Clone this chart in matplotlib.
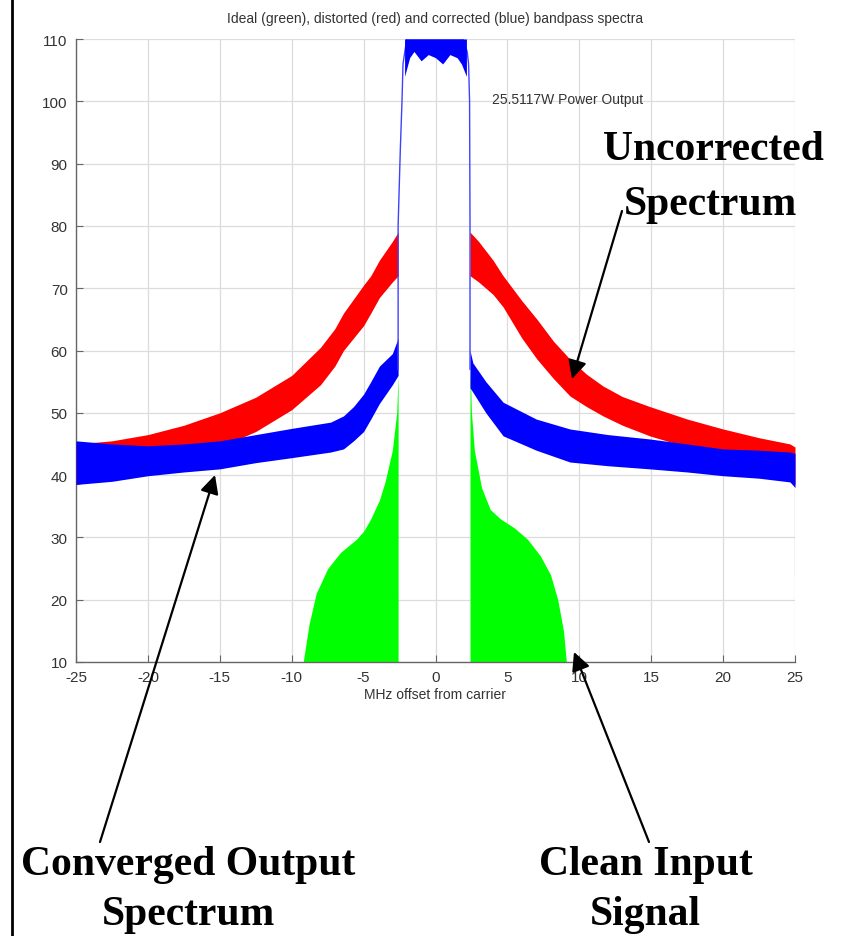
import matplotlib
matplotlib.use("Agg")
import matplotlib.pyplot as plt
from matplotlib.lines import Line2D

# ---------------- data ----------------
# Distorted (red) spectrum: noisy band, lower / upper envelopes
red_x_left = [-25, -22.5, -20, -17.5, -15, -12.5, -10, -8, -7, -6.4, -5, -4.5, -3.9, -3, -2.6]
red_lo_left = [38.5, 39.5, 40.5, 42, 44.5, 47, 50.5, 54.5, 57.5, 60, 64, 66, 68.5, 71, 72]
red_hi_left = [45, 45.5, 46.5, 48, 50, 52.5, 56, 60.5, 63.5, 66, 70.5, 72, 74.5, 77.5, 79]
red_x_right = [2.4, 3, 4, 4.7, 6, 7.06, 8.2, 9.35, 10.5, 11.65, 13, 14.9, 17.5, 20, 22.5, 24.65, 25]
red_hi_right = [79, 77.5, 74.5, 72, 68, 65, 61.5, 58.6, 56.2, 54.3, 52.6, 51, 49, 47.4, 46, 45, 44.5]
red_lo_right = [72, 71, 69, 67, 62, 58.6, 55.5, 52.7, 51, 49.5, 48, 46.3, 44.5, 43, 41.5, 39, 38.5]
red_tail_x = [25, 25]
red_tail_y = [40, 24]

# Corrected (blue) spectrum: skirts
blue_x_left = [-25, -22.5, -20, -17.5, -15, -12.5, -10, -7.3, -6.4, -5.7, -5, -4.5, -3.9, -3, -2.6]
blue_hi_left = [45.5, 45, 44.7, 45, 45.5, 46.5, 47.5, 48.5, 49.5, 51, 53, 55, 57.5, 59.5, 62]
blue_lo_left = [38.5, 39, 39.9, 40.5, 41, 42, 42.8, 43.7, 44.2, 45.5, 47, 49, 51.5, 54.5, 56]
blue_x_right = [2.4, 2.6, 3.5, 4.7, 7, 9.35, 12, 14.9, 17.5, 20, 22.5, 24.65, 25]
blue_hi_right = [60, 58, 55, 51.7, 49, 47.4, 46.5, 45.8, 45, 44.2, 44, 43.7, 43.5]
blue_lo_right = [54, 53.3, 50, 46.3, 44, 42.1, 41.5, 41, 40.5, 39.9, 39.5, 38.9, 38]

# Main lobe (blue) edges and flat top band
lobe_x = [-2.6, -2.6, -2.45, -2.33, -2.26, -2.0, 1.9, 2.2, 2.3, 2.37, 2.4, 2.4]
lobe_y = [57, 80, 92, 100, 106, 110, 110, 108, 106, 100, 80, 57]
lobe_top_x = [-2.15, -1.8, -1.5, -1.0, -0.5, 0, 0.5, 1.0, 1.5, 1.8, 2.15]
lobe_top_lo = [104, 107, 108, 106.5, 107.5, 107, 106, 107.5, 107, 106, 104]

# Ideal (green) spectrum skirts, filled from the floor
green_x_left = [-9.2, -8.8, -8.3, -7.5, -6.6, -5.5, -5.0, -4.5, -3.9, -3.5, -3.0, -2.7, -2.6]
green_hi_left = [10, 16, 21, 25, 27.6, 29.7, 31, 33, 36, 39, 44, 50, 56]
green_x_right = [2.4, 2.5, 2.7, 3.2, 3.8, 4.5, 5.5, 6.4, 7.3, 8.0, 8.5, 8.9, 9.1]
green_hi_right = [58, 50, 44, 38, 34.5, 33, 31.5, 29.7, 27, 24, 20, 15, 10]

x_ticks = [-25, -20, -15, -10, -5, 0, 5, 10, 15, 20, 25]
y_ticks = [10, 20, 30, 40, 50, 60, 70, 80, 90, 100, 110]

title = "Ideal (green), distorted (red) and corrected (blue) bandpass spectra"
xlabel = "MHz offset from carrier"
power_text = "25.5117W Power Output"

# ---------------- figure ----------------
W, H = 844, 937
fig = plt.figure(figsize=(W / 100, H / 100), dpi=100)
fig.patch.set_facecolor("white")

def fx(px):
    return px / W

def fy(py):
    return 1 - py / H

ax = fig.add_axes([fx(76), fy(663), fx(795) - fx(76), fy(40) - fy(663)])
ax.set_xlim(-25, 25)
ax.set_ylim(10, 110)

floor = 10
ax.fill_between(green_x_left, floor, green_hi_left, color="#00ff00", lw=0, zorder=2)
ax.fill_between(green_x_right, floor, green_hi_right, color="#00ff00", lw=0, zorder=2)

ax.fill_between(red_x_left, red_lo_left, red_hi_left, color="#ff0000", lw=0, zorder=3)
ax.fill_between(red_x_right, red_lo_right, red_hi_right, color="#ff0000", lw=0, zorder=3)
ax.plot(red_tail_x, red_tail_y, color="#ff6060", lw=0.8, zorder=3)

ax.fill_between(blue_x_left, blue_lo_left, blue_hi_left, color="#0000ff", lw=0, zorder=4)
ax.fill_between(blue_x_right, blue_lo_right, blue_hi_right, color="#0000ff", lw=0, zorder=4)
ax.plot(lobe_x, lobe_y, color="#4040ff", lw=1.0, zorder=4)
ax.fill_between(lobe_top_x, lobe_top_lo, 110, color="#0000ff", lw=0, zorder=4)

ax.set_xticks(x_ticks)
ax.set_yticks(y_ticks)
ax.set_xticklabels([str(t) for t in x_ticks])
ax.grid(True, color="#dcdcdc", lw=0.9, ls="-", zorder=0)
ax.set_axisbelow(True)
for s in ["top", "right"]:
    ax.spines[s].set_visible(False)
for s in ["left", "bottom"]:
    ax.spines[s].set_color("#666666")
    ax.spines[s].set_linewidth(1.0)
ax.tick_params(direction="in", length=5, color="#666666", labelcolor="#333333",
               labelsize=11, pad=6)
for lab in ax.get_xticklabels() + ax.get_yticklabels():
    lab.set_family("Liberation Sans")

ax.set_xlabel(xlabel, fontsize=10, color="#333333", family="Liberation Sans", labelpad=2)
ax.set_title(title, fontsize=10, color="#333333", family="Liberation Sans", pad=12)
ax.text(3.9, 100.4, power_text, fontsize=10, color="#333333", family="Liberation Sans",
        ha="left", va="center", zorder=5)

# left border of the slide
fig.add_artist(Line2D([fx(12), fx(12)], [0, 1], color="black", lw=2))

# big annotations
big = dict(family="Liberation Serif", fontweight="bold", fontsize=30, color="black",
           ha="center", va="center")
fig.text(fx(713), fy(150), "Uncorrected", **big)
fig.text(fx(710), fy(205), "Spectrum", **big)
fig.text(fx(188), fy(865), "Converged Output", **big)
fig.text(fx(189), fy(915), "Spectrum", **big)
fig.text(fx(646), fy(865), "Clean Input", **big)
fig.text(fx(645), fy(915), "Signal", **big)

arrow = dict(arrowstyle="-|>", color="black", lw=1.6, mutation_scale=28,
             shrinkA=0, shrinkB=0)
ax.annotate("", xy=(fx(572), fy(380)), xytext=(fx(622), fy(212)),
            xycoords="figure fraction", textcoords="figure fraction",
            arrowprops=arrow, annotation_clip=False)
ax.annotate("", xy=(fx(215), fy(476)), xytext=(fx(100), fy(843)),
            xycoords="figure fraction", textcoords="figure fraction",
            arrowprops=arrow, annotation_clip=False)
ax.annotate("", xy=(fx(574), fy(653)), xytext=(fx(649), fy(843)),
            xycoords="figure fraction", textcoords="figure fraction",
            arrowprops=arrow, annotation_clip=False)

fig.savefig("out.png", dpi=100, facecolor="white")
